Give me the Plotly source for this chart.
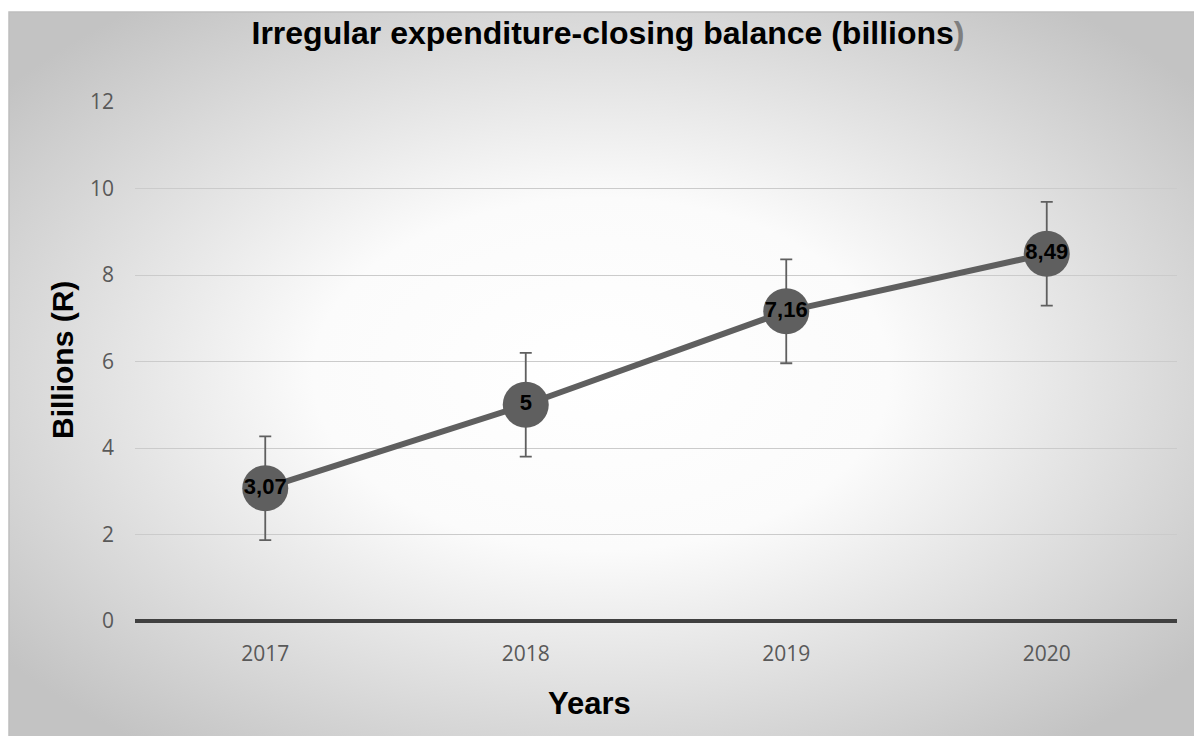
import base64
import plotly.graph_objects as go

years = ["2017", "2018", "2019", "2020"]
balance = [3.07, 5.00, 7.16, 8.49]
labels = ["3,07", "5", "7,16", "8,49"]
error = [1.2, 1.2, 1.2, 1.2]
y_ticks = [0, 2, 4, 6, 8, 10, 12]

W, H = 1194, 736
L, R, T, B = 135, 17, 102, 115
pw, ph = W - L - R, H - T - B

svg = (
    '<svg xmlns="http://www.w3.org/2000/svg" width="1185" height="724" preserveAspectRatio="none" viewBox="0 0 1185 724">'
    '<defs><radialGradient id="g" cx="0.5" cy="0.5" r="0.64" gradientUnits="objectBoundingBox">'
    '<stop offset="0" stop-color="#ffffff"/><stop offset="0.38" stop-color="#fbfbfb"/>'
    '<stop offset="1" stop-color="#c3c3c3"/></radialGradient></defs>'
    '<rect x="0" y="0" width="1185" height="724" fill="url(#g)"/></svg>'
)
src = "data:image/svg+xml;base64," + base64.b64encode(svg.encode()).decode()

x0 = (9 - L) / pw
x1 = (W - L) / pw
y1 = (H - B - 12) / ph
y0 = (H - B - H) / ph

fig = go.Figure()
fig.add_trace(go.Scatter(
    x=years, y=balance, mode="lines+markers+text",
    line=dict(color="#5f5f5f", width=6),
    marker=dict(size=46, color="#5f5f5f"),
    text=["<b>" + t + "</b>" for t in labels], textposition="middle center",
    textfont=dict(family="Arial", size=22, color="#000000"),
    error_y=dict(type="data", array=error, visible=True, color="#5f5f5f", thickness=1.8, width=6),
    cliponaxis=False,
    showlegend=False,
))

fig.add_layout_image(dict(source=src, xref="paper", yref="paper", x=x0, y=y1,
                          sizex=x1 - x0, sizey=y1 - y0, sizing="stretch", layer="below",
                          xanchor="left", yanchor="top"))
fig.add_shape(type="rect", xref="paper", yref="paper", x0=x0, x1=x1 + 0.01, y0=y0 - 0.01, y1=y1,
              line=dict(color="#bfbfbf", width=1.5), fillcolor="rgba(0,0,0,0)", layer="below")

fig.add_annotation(text="<b>Years</b>", xref="paper", yref="paper",
                   x=(589 - L) / pw, y=(H - B - 703) / ph, xanchor="center", yanchor="middle",
                   showarrow=False, font=dict(family="Arial", size=31, color="#000000"))
fig.add_annotation(text="<b>Billions (R)</b>", xref="paper", yref="paper", textangle=-90,
                   x=(62 - L) / pw, y=(H - B - 360) / ph, xanchor="center", yanchor="middle",
                   showarrow=False, font=dict(family="Arial", size=30, color="#000000"))

fig.update_layout(
    width=W, height=H,
    margin=dict(l=L, r=R, t=T, b=B),
    paper_bgcolor="#ffffff", plot_bgcolor="rgba(0,0,0,0)",
    title=dict(text="<b>Irregular expenditure-closing balance (billions<span style='color:#7f7f7f'>)</span></b>",
               x=608 / W, xanchor="center", y=1 - 33 / H, yanchor="middle",
               font=dict(family="Arial", size=32, color="#000000")),
    xaxis=dict(type="category", range=[-0.5, 3.5], showgrid=False, zeroline=False,
               showline=False, ticks="", ticklabelstandoff=18,
               tickfont=dict(family="Open Sans", size=21, color="#595959")),
    yaxis=dict(range=[0, 12], tickvals=y_ticks, showgrid=True, gridcolor="#cbcbcb", gridwidth=1.4,
               zeroline=True, zerolinecolor="#404040", zerolinewidth=4, showline=False, ticks="",
               ticklabelstandoff=20,
               tickfont=dict(family="Open Sans", size=21, color="#595959")),
)

fig.write_html("out.html")
